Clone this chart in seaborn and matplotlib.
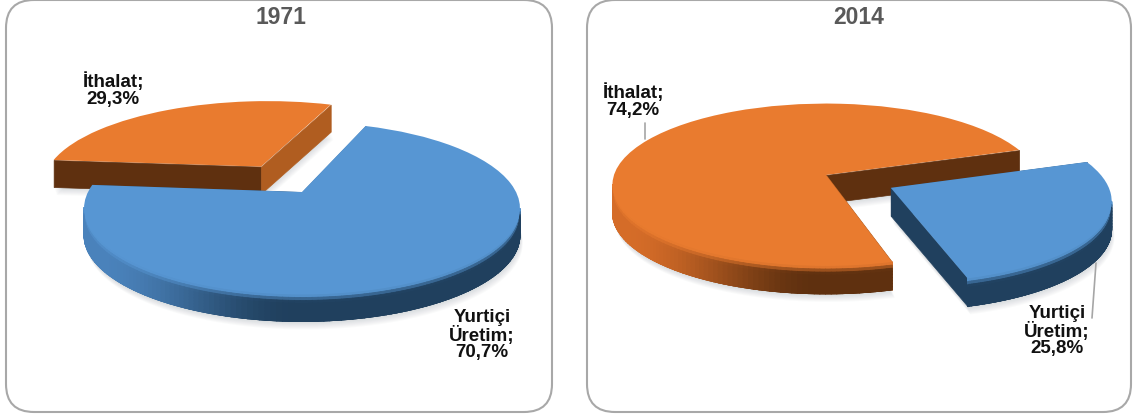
import numpy as np
import matplotlib
matplotlib.use("Agg")
import matplotlib.pyplot as plt
import seaborn as sns
from matplotlib.collections import PolyCollection
from matplotlib.patches import FancyBboxPatch
from matplotlib.transforms import Transform
from matplotlib.colors import to_rgb

# ---- data -------------------------------------------------------------
years = ["1971", "2014"]
categories = ["Yurtiçi Üretim", "İthalat"]
values_1971 = [70.7, 29.3]
values_2014 = [25.8, 74.2]

W, H = 1134, 418
sns.set_theme(style="white")
plt.rcParams["font.family"] = ["Liberation Sans", "DejaVu Sans"]
BLUE, ORANGE = sns.color_palette(["#5796D3", "#E97B2F"])
WALL = {
    "b": dict(top=BLUE, light="#4A82BB", dark="#20405E", side="#20405E"),
    "o": dict(top=ORANGE, light="#D56C28", dark="#5F300F", side="#B05D20"),
}


class Tilt(Transform):
    input_dims = output_dims = 2

    def __init__(self, cx, cy, R, S, k):
        super().__init__()
        self.p = (cx, cy, R, S, k)

    def transform_non_affine(self, xy):
        xy = np.asarray(xy, float)
        cx, cy, R, S, k = self.p
        w = 1 + k * xy[:, 1]
        return np.column_stack([cx + R * xy[:, 0] / w, cy - S * xy[:, 1] / w])


def mix(a, b, t):
    a, b = np.array(to_rgb(a)), np.array(to_rgb(b))
    return tuple(a + (b - a) * np.clip(t, 0, 1))


def smooth(t):
    t = np.clip(t, 0, 1)
    return t * t * (3 - 2 * t)


def draw_3d(ax, vals, start, explode, keys, geoms, depth, order):
    wedges, _ = ax.pie(vals, startangle=start, explode=explode,
                       colors=[WALL[k]["top"] for k in keys], counterclock=True,
                       wedgeprops=dict(linewidth=0))
    z = 2
    for i in order:
        geom = geoms[i]
        tilt = Tilt(*geom)
        w, st = wedges[i], WALL[keys[i]]
        w.set_transform(tilt + ax.transData)
        cx0, cy0 = w.center
        th = np.radians(np.linspace(w.theta1, w.theta2, 200))
        rim = tilt.transform_non_affine(np.column_stack([cx0 + np.cos(th), cy0 + np.sin(th)]))
        apex = tilt.transform_non_affine(np.array([[cx0, cy0]]))[0]
        outline = np.vstack([apex, rim])

        # soft ground shadow
        for d in range(8, 0, -1):
            ax.add_collection(PolyCollection([outline + [d * 0.35, depth + d]],
                                             facecolors=(0.45, 0.5, 0.55, 0.035),
                                             edgecolors="none", zorder=z))
        z += 1

        # radial cut faces
        faces = []
        for ang, sign in ((w.theta1, -1), (w.theta2, 1)):
            nx = np.cos(np.radians(ang + sign * 90))
            end = rim[0] if sign < 0 else rim[-1]
            faces.append((nx, end))
        for nx, end in sorted(faces, key=lambda f: f[0]):
            col = mix(st["dark"], st["side"], smooth((nx - 0.4) / 0.5))
            ax.add_collection(PolyCollection(
                [[apex, end, end + [0, depth], apex + [0, depth]]],
                facecolors=[col], edgecolors=[col], linewidths=0.5, zorder=z))
            z += 1

        # curved outer wall: only the part turned to the viewer
        rows = 9
        polys, cols = [], []
        unit_x = (rim[:, 0] - geom[0]) / geom[2]
        for r in range(rows):
            t0, t1 = r / rows, (r + 1) / rows
            for j in range(len(rim) - 1):
                a, b = rim[j], rim[j + 1]
                if b[0] - a[0] <= 0:
                    continue
                polys.append([a + [0, depth * t0], b + [0, depth * t0],
                              b + [0, depth * t1], a + [0, depth * t1]])
                base = mix(st["light"], st["dark"], smooth((unit_x[j] + 0.95) / 0.9))
                cols.append(mix(st["top"], base, smooth((t0 + 0.05) / 0.3)))
        for _ in range(3):
            ax.add_collection(PolyCollection(polys, facecolors=cols, edgecolors=cols,
                                             linewidths=0.6, zorder=z))
        z += 1
        w.set_zorder(z)
        z += 1
    return z


fig = plt.figure(figsize=(W / 100, H / 100), dpi=100, facecolor="white")
ax = fig.add_axes([0, 0, 1, 1])

draw_3d(ax, values_1971, 175.0, [0.0, 0.38], ["b", "o"],
        [(302, 192, 214, 83, 0.19), (304, 193, 225, 87, 0.19)], 27, [1, 0])
draw_3d(ax, values_2014, -74, [0.34, 0.0], ["b", "o"],
        [(825, 175, 214, 80, 0.12), (826, 175, 212, 80, 0.12)], 28, [1, 0])

ax.set_aspect("auto")
ax.set_xlim(0, W)
ax.set_ylim(H, 0)
ax.axis("off")

for x0, x1 in ((6, 552), (587, 1131)):
    ax.add_patch(FancyBboxPatch((x0 + 28, 28), x1 - x0 - 56, 356,
                                boxstyle="round,pad=28,rounding_size=28",
                                fc="none", ec="#A8A8A8", lw=1.5, zorder=1))

for x, yr in zip((281, 859), years):
    ax.text(x, 18, yr, ha="center", va="center", fontsize=16.5, fontweight="bold", color="#595959")

lab = dict(ha="center", va="center", fontsize=13.5, fontweight="bold", color="#111111",
           linespacing=1.0, zorder=50)
ax.text(113, 90, f"{categories[1]};\n{str(values_1971[1]).replace('.', ',')}%", **lab)
ax.text(482, 335, "Yurtiçi\nÜretim;\n" + f"{str(values_1971[0]).replace('.', ',')}%", **lab)
ax.text(633, 101, f"{categories[1]};\n{str(values_2014[1]).replace('.', ',')}%", **lab)
ax.text(1057, 331, "Yurtiçi\nÜretim;\n" + f"{str(values_2014[0]).replace('.', ',')}%", **lab)

ax.plot([645, 645], [123, 139], color="#A6A6A6", lw=1.2, zorder=40)
ax.plot([1096, 1092], [263, 318], color="#A6A6A6", lw=1.2, zorder=40)

fig.savefig("out.png", dpi=100)
